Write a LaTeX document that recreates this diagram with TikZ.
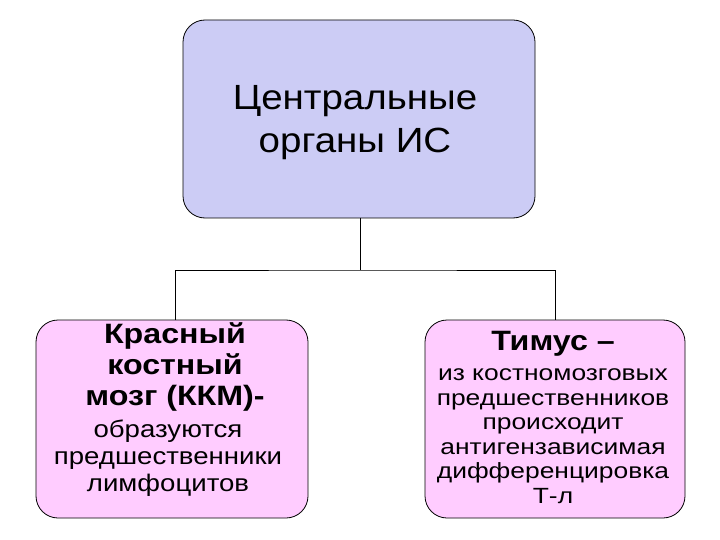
\documentclass[tikz,border=0pt]{standalone}
\usepackage{fontspec}
\setmainfont{Liberation Sans}
\begin{document}
\begin{tikzpicture}[x=1pt,y=-1pt,
  box/.style={draw=black, line width=0.8pt, rounded corners=22pt},
  conn/.style={draw=black, line width=1pt},
  txt/.style={align=center, inner sep=0pt, transform shape}]
\useasboundingbox (0,0) rectangle (720,540);
\draw[box, fill={rgb,255:red,204;green,204;blue,245}] (183,20) rectangle (535,218);
\draw[box, fill={rgb,255:red,255;green,204;blue,255}] (36,320) rectangle (308,518);
\draw[box, fill={rgb,255:red,255;green,204;blue,255}] (425,320) rectangle (685,518);
\coordinate (t) at (360,218);
\coordinate (tm) at (360,270);
\coordinate (l) at (175,320);
\coordinate (r) at (555,320);
\draw[conn] (t) -- (tm);
\draw[conn] (l) |- (tm) -| (r);
\node[txt, xscale=1.1, font=\fontsize{35}{43}\selectfont] (top) at (355,123) {Центральные\\ органы ИС};
\node[txt, xscale=1.15, font=\fontsize{28}{31}\selectfont\bfseries] (lb) at (175,367) {Красный\\костный\\мозг (ККМ)-};
\node[txt, xscale=1.15, font=\fontsize{24}{27}\selectfont] (ln) at (168,458) {образуются\\предшественники\\лимфоцитов};
\node[txt, xscale=1.15, font=\fontsize{28}{31}\selectfont\bfseries] (rb) at (553,344) {Тимус –};
\node[txt, xscale=1.2, font=\fontsize{22}{24.5}\selectfont] (rn) at (553,436) {из костномозговых\\предшественников\\происходит\\антигензависимая\\дифференцировка\\Т-л};
\end{tikzpicture}
\end{document}
